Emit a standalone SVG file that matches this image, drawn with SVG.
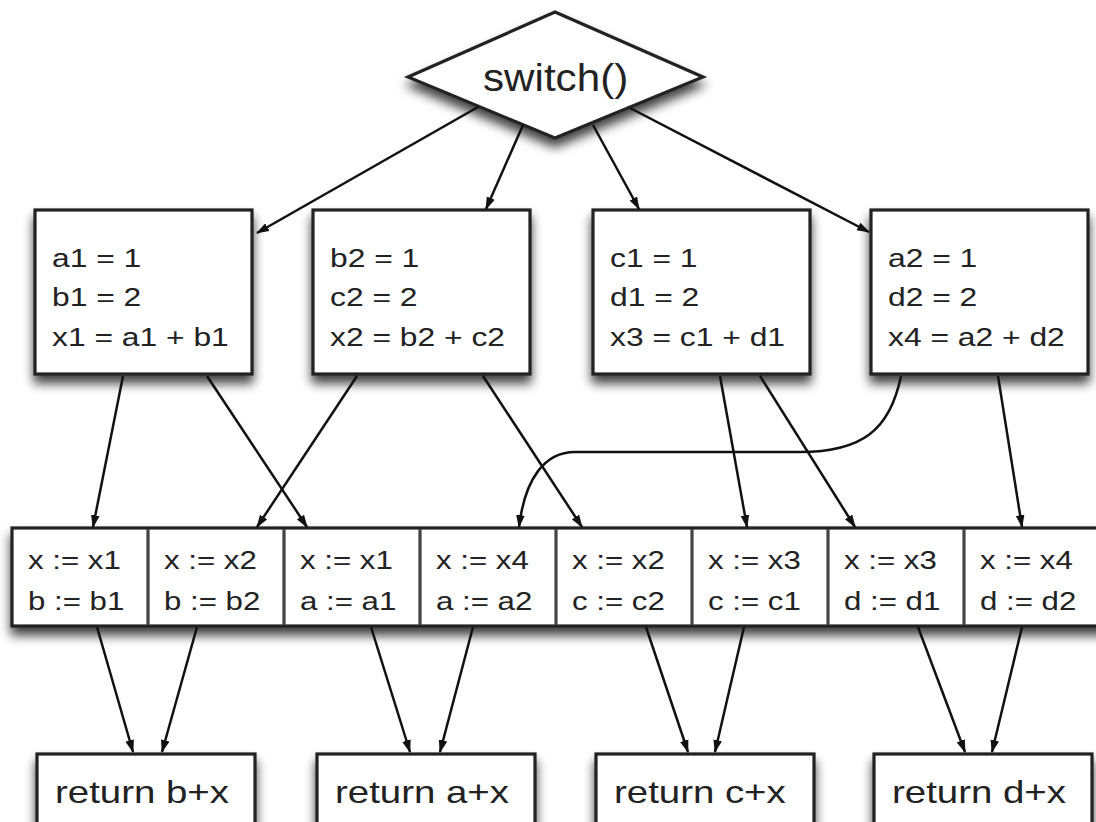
<svg xmlns="http://www.w3.org/2000/svg" width="1096" height="822" viewBox="0 0 1096 822">
<style>
  .box { fill: #ffffff; stroke: #222222; stroke-width: 3.2; }
  .t { font-family: "Liberation Sans", Arial, sans-serif; fill: #222222; }
  .t1 { font-size: 26.5px; }
  .t2 { font-size: 26px; }
  .t3 { font-size: 32px; }
  .div { stroke: #444444; stroke-width: 3.2; }
  .edge { fill: none; stroke: #111111; stroke-width: 2.5; marker-end: url(#arr); }
</style>
<defs>
  <marker id="arr" viewBox="0 0 12 8" refX="11" refY="4" markerWidth="13" markerHeight="9" markerUnits="userSpaceOnUse" orient="auto">
    <path d="M0,0 L12,4 L0,8 z" fill="#111111"/>
  </marker>
  <filter id="sh" x="-20%" y="-30%" width="140%" height="170%">
    <feGaussianBlur in="SourceAlpha" stdDeviation="5.5"/>
    <feOffset dx="0" dy="8"/>
    <feComponentTransfer><feFuncA type="linear" slope="0.75"/></feComponentTransfer>
    <feMerge><feMergeNode/><feMergeNode in="SourceGraphic"/></feMerge>
  </filter>
</defs>
<rect width="1096" height="822" fill="#ffffff"/>

<g id="switch">
  <polygon class="box" filter="url(#sh)" points="555,12 703,77 555,138 408,77"/>
  <text class="t" font-size="38" transform="translate(483 91) scale(1.11 1)">switch()</text>
</g>

<g id="block1">
  <rect class="box" filter="url(#sh)" x="35" y="210" width="217" height="164"/>
  <text class="t t1" transform="translate(52 267) scale(1.2 1)">a1 = 1</text>
  <text class="t t1" transform="translate(52 306) scale(1.2 1)">b1 = 2</text>
  <text class="t t1" transform="translate(52 346) scale(1.2 1)">x1 = a1 + b1</text>
</g>
<g id="block2">
  <rect class="box" filter="url(#sh)" x="313" y="210" width="217" height="164"/>
  <text class="t t1" transform="translate(330 267) scale(1.2 1)">b2 = 1</text>
  <text class="t t1" transform="translate(330 306) scale(1.2 1)">c2 = 2</text>
  <text class="t t1" transform="translate(330 346) scale(1.2 1)">x2 = b2 + c2</text>
</g>
<g id="block3">
  <rect class="box" filter="url(#sh)" x="593" y="210" width="217" height="164"/>
  <text class="t t1" transform="translate(610 267) scale(1.2 1)">c1 = 1</text>
  <text class="t t1" transform="translate(610 306) scale(1.2 1)">d1 = 2</text>
  <text class="t t1" transform="translate(610 346) scale(1.2 1)">x3 = c1 + d1</text>
</g>
<g id="block4">
  <rect class="box" filter="url(#sh)" x="871" y="210" width="217" height="164"/>
  <text class="t t1" transform="translate(888 267) scale(1.2 1)">a2 = 1</text>
  <text class="t t1" transform="translate(888 306) scale(1.2 1)">d2 = 2</text>
  <text class="t t1" transform="translate(888 346) scale(1.2 1)">x4 = a2 + d2</text>
</g>

<g id="copies">
  <rect class="box" filter="url(#sh)" x="12" y="528" width="1100" height="98"/>
  <line class="div" x1="148" y1="529" x2="148" y2="625"/>
  <line class="div" x1="284" y1="529" x2="284" y2="625"/>
  <line class="div" x1="420" y1="529" x2="420" y2="625"/>
  <line class="div" x1="556" y1="529" x2="556" y2="625"/>
  <line class="div" x1="692" y1="529" x2="692" y2="625"/>
  <line class="div" x1="828" y1="529" x2="828" y2="625"/>
  <line class="div" x1="964" y1="529" x2="964" y2="625"/>
  <g id="copy1">
    <text class="t t2" transform="translate(28 569) scale(1.2 1)">x := x1</text>
    <text class="t t2" transform="translate(28 610) scale(1.2 1)">b := b1</text>
  </g>
  <g id="copy2">
    <text class="t t2" transform="translate(164 569) scale(1.2 1)">x := x2</text>
    <text class="t t2" transform="translate(164 610) scale(1.2 1)">b := b2</text>
  </g>
  <g id="copy3">
    <text class="t t2" transform="translate(300 569) scale(1.2 1)">x := x1</text>
    <text class="t t2" transform="translate(300 610) scale(1.2 1)">a := a1</text>
  </g>
  <g id="copy4">
    <text class="t t2" transform="translate(436 569) scale(1.2 1)">x := x4</text>
    <text class="t t2" transform="translate(436 610) scale(1.2 1)">a := a2</text>
  </g>
  <g id="copy5">
    <text class="t t2" transform="translate(572 569) scale(1.2 1)">x := x2</text>
    <text class="t t2" transform="translate(572 610) scale(1.2 1)">c := c2</text>
  </g>
  <g id="copy6">
    <text class="t t2" transform="translate(708 569) scale(1.2 1)">x := x3</text>
    <text class="t t2" transform="translate(708 610) scale(1.2 1)">c := c1</text>
  </g>
  <g id="copy7">
    <text class="t t2" transform="translate(844 569) scale(1.2 1)">x := x3</text>
    <text class="t t2" transform="translate(844 610) scale(1.2 1)">d := d1</text>
  </g>
  <g id="copy8">
    <text class="t t2" transform="translate(980 569) scale(1.2 1)">x := x4</text>
    <text class="t t2" transform="translate(980 610) scale(1.2 1)">d := d2</text>
  </g>
</g>

<g id="ret1">
  <rect class="box" filter="url(#sh)" x="37" y="754" width="218" height="90"/>
  <text class="t t3" transform="translate(55 803) scale(1.2 1)">return b+x</text>
</g>
<g id="ret2">
  <rect class="box" filter="url(#sh)" x="317" y="754" width="218" height="90"/>
  <text class="t t3" transform="translate(335 803) scale(1.2 1)">return a+x</text>
</g>
<g id="ret3">
  <rect class="box" filter="url(#sh)" x="596" y="754" width="218" height="90"/>
  <text class="t t3" transform="translate(614 803) scale(1.2 1)">return c+x</text>
</g>
<g id="ret4">
  <rect class="box" filter="url(#sh)" x="874" y="754" width="218" height="90"/>
  <text class="t t3" transform="translate(892 803) scale(1.2 1)">return d+x</text>
</g>

<g id="connectors">
  <line class="edge" x1="478" y1="107" x2="257" y2="233"/>
  <line class="edge" x1="523" y1="125" x2="486" y2="209"/>
  <line class="edge" x1="593" y1="125" x2="639" y2="209"/>
  <line class="edge" x1="630" y1="108" x2="869" y2="232"/>

  <line class="edge" x1="123" y1="376" x2="93" y2="527"/>
  <line class="edge" x1="207" y1="376" x2="307" y2="527"/>
  <line class="edge" x1="357" y1="376" x2="257" y2="527"/>
  <line class="edge" x1="483" y1="376" x2="582" y2="527"/>
  <line class="edge" x1="720" y1="376" x2="747" y2="527"/>
  <line class="edge" x1="760" y1="376" x2="855" y2="527"/>
  <path class="edge" d="M 901 376 C 890 430, 862 452, 800 452 L 575 452 C 545 452, 525 478, 519 527"/>
  <line class="edge" x1="998" y1="376" x2="1022" y2="527"/>

  <line class="edge" x1="97" y1="627" x2="133" y2="752"/>
  <line class="edge" x1="197" y1="627" x2="162" y2="752"/>
  <line class="edge" x1="371" y1="627" x2="410" y2="752"/>
  <line class="edge" x1="473" y1="627" x2="440" y2="752"/>
  <line class="edge" x1="646" y1="627" x2="688" y2="752"/>
  <line class="edge" x1="744" y1="627" x2="715" y2="752"/>
  <line class="edge" x1="918" y1="627" x2="965" y2="752"/>
  <line class="edge" x1="1022" y1="627" x2="992" y2="752"/>
</g>
</svg>
